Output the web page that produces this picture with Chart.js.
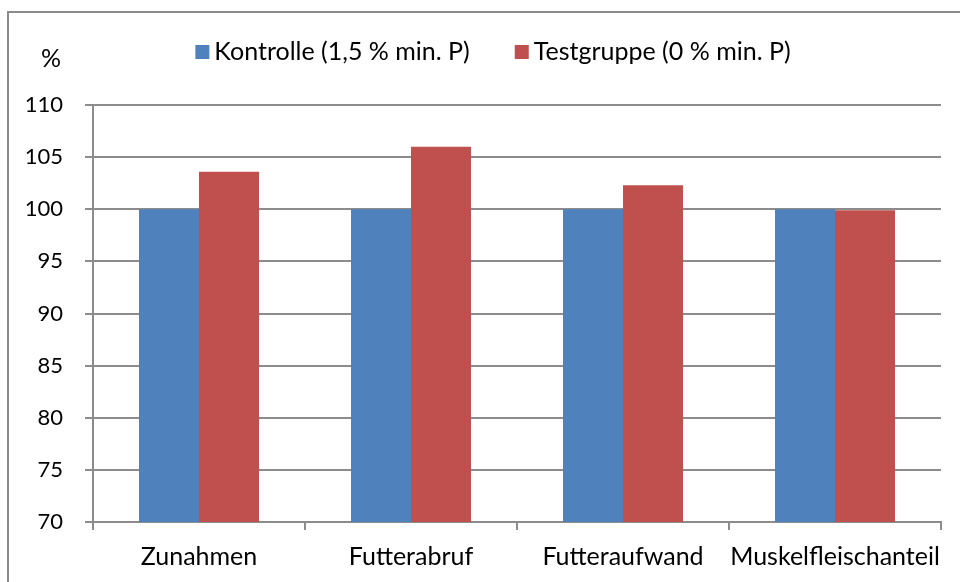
<!DOCTYPE html>
<html>
<head>
<meta charset="utf-8">
<script src="https://cdn.jsdelivr.net/npm/chart.js@4"></script>
<style>
  html, body { margin: 0; padding: 0; background: #fff; }
  #wrap { position: relative; width: 960px; height: 582px; overflow: hidden; }
  #frame {
    position: absolute; left: 7px; top: 11px; width: 1000px; height: 1000px;
    border-left: 2px solid #8a8a8a; border-top: 2px solid #8a8a8a;
  }
  #myChart { position: absolute; left: 0; top: 0; }
</style>
</head>
<body>
<div id="wrap">
  <div id="frame"></div>
  <canvas id="myChart" width="960" height="582"></canvas>
</div>
<script>
const categories = ['Zunahmen', 'Futterabruf', 'Futteraufwand', 'Muskelfleischanteil'];
const kontrolle = [100, 100, 100, 100];
const testgruppe = [103.6, 106.0, 102.3, 99.9];
const yMin = 70;
const yMax = 110;
const yStep = 5;

const FONT = 'Lato';
const gridColor = '#8c8c8c';

// Legende oben + "%" ueber der y-Achse
const topTexts = {
  id: 'topTexts',
  afterDraw(chart) {
    const ctx = chart.ctx;
    ctx.save();
    ctx.font = '25px ' + FONT;
    ctx.fillStyle = '#000';
    ctx.textBaseline = 'middle';
    ctx.textAlign = 'center';
    ctx.fillText('%', 51, 59);

    const box = 14;
    const gapText = 5;
    const gapItem = 45;
    const items = chart.data.datasets.map((ds) => ({
      text: ds.label,
      color: ds.backgroundColor,
      w: ctx.measureText(ds.label).width,
    }));
    const total = items.reduce((acc, it) => acc + box + gapText + it.w, 0) + gapItem * (items.length - 1);
    let x = 493 - total / 2;
    const y = 52;
    ctx.textAlign = 'left';
    items.forEach((it) => {
      ctx.fillStyle = it.color;
      ctx.fillRect(x, y - box / 2, box, box);
      ctx.fillStyle = '#000';
      ctx.fillText(it.text, x + box + gapText, y);
      x += box + gapText + it.w + gapItem;
    });
    ctx.restore();
  },
};

const ctx = document.getElementById('myChart');

new Chart(ctx, {
  type: 'bar',
  data: {
    labels: categories,
    datasets: [
      {
        label: 'Kontrolle (1,5 % min. P)',
        data: kontrolle,
        backgroundColor: '#4F81BD',
      },
      {
        label: 'Testgruppe (0 % min. P)',
        data: testgruppe,
        backgroundColor: '#C0504D',
      },
    ],
  },
  options: {
    responsive: false,
    animation: false,
    layout: {
      padding: { left: 0, right: 19, top: 105, bottom: 0 },
    },
    datasets: {
      bar: {
        categoryPercentage: 0.566,
        barPercentage: 1.0,
      },
    },
    plugins: {
      legend: { display: false },
      tooltip: { enabled: false },
    },
    scales: {
      x: {
        afterFit(scale) {
          scale.height = 60;
        },
        grid: {
          drawOnChartArea: false,
          drawTicks: true,
          tickLength: 8,
          color: gridColor,
          lineWidth: 2,
        },
        border: { display: true, color: gridColor, width: 2 },
        ticks: {
          color: '#000',
          padding: 12,
          maxRotation: 0,
          minRotation: 0,
          autoSkip: false,
          font: { family: FONT, size: 25 },
        },
      },
      y: {
        min: yMin,
        max: yMax,
        afterFit(scale) {
          scale.width = 93;
        },
        grid: {
          color: gridColor,
          lineWidth: 2,
          tickLength: 8,
        },
        border: { display: true, color: gridColor, width: 2 },
        ticks: {
          stepSize: yStep,
          color: '#000',
          padding: 22,
          font: { family: FONT, size: 22 },
        },
      },
    },
  },
  plugins: [topTexts],
});
</script>
</body>
</html>
